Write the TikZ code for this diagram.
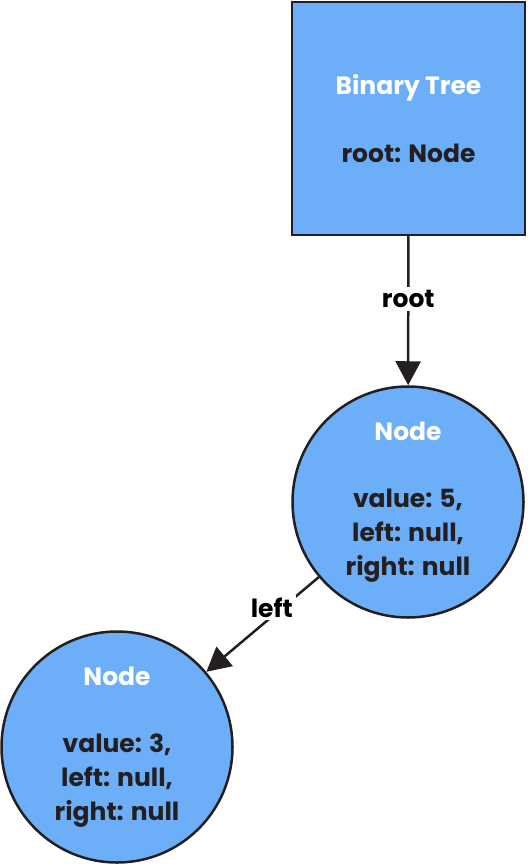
\documentclass[tikz,border=0pt]{standalone}
\usepackage{fontspec}
\setmainfont{Poppins}
\usepackage{tikz}
\usetikzlibrary{arrows.meta}
\definecolor{nodeblue}{HTML}{6DAEF9}
\definecolor{ink}{HTML}{231F20}
\tikzset{tree box/.style={draw=ink, line width=2.5pt, fill=nodeblue, minimum size=233pt, inner sep=0, align=center, text=ink, font=\fontsize{25}{34}\selectfont\bfseries}}
\tikzset{tree node/.style={circle, draw=ink, line width=2.5pt, fill=nodeblue, minimum size=231pt, inner sep=0, align=center, text=ink, font=\fontsize{25}{34}\selectfont\bfseries}}
\tikzset{every edge/.style={draw=ink, line width=2.5pt}}
\tikzset{link label/.style={fill=white, text=black, inner sep=3pt, font=\fontsize{25}{28}\selectfont\bfseries}}

\begin{document}
\begin{tikzpicture}[x=1pt, y=-1pt]
  \useasboundingbox (0, 0) rectangle (527, 866);

  \node[tree box] at (408.5, 118.5) (tree) {\textcolor{white}{Binary Tree}\\[34pt] root: Node};

  % root node and its left child
  \node[tree node] at (408, 502) (five) {\textcolor{white}{Node}\\[33pt] value: 5,\\ left: null,\\ right: null};
  \node[tree node] at (117, 747) (three) {\textcolor{white}{Node}\\[33pt] value: 3,\\ left: null,\\ right: null};

  \draw (tree) edge[-{Triangle[width=25pt, length=24pt]}] node[link label, pos=0.42] {root} (five);
  \draw (five) edge[-{Triangle[width=25pt, length=24pt]}] node[link label, pos=0.32, xshift=-11pt] {left} (three);
\end{tikzpicture}
\end{document}
